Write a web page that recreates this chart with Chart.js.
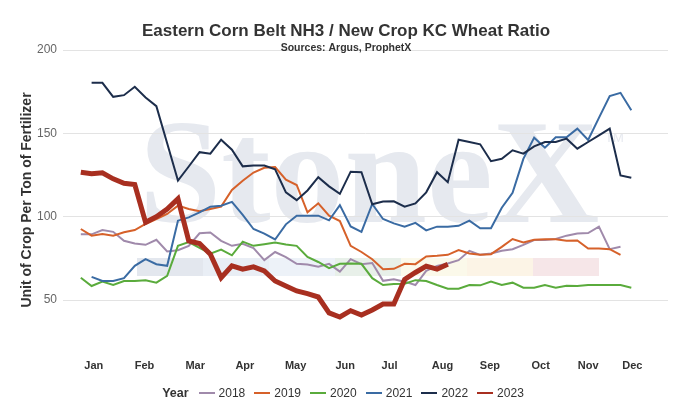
<!DOCTYPE html>
<html>
<head>
<meta charset="utf-8">
<script src="https://cdn.jsdelivr.net/npm/chart.js@4.4.0/dist/chart.umd.min.js"></script>
<style>
  html, body { margin: 0; padding: 0; background: #fff; }
  #wrap { position: relative; width: 676px; height: 409px; }
  #legend {
    position: absolute; left: 5px; top: 386px; width: 676px;
    display: flex; justify-content: center; align-items: center;
    font: 12px "Liberation Sans", Arial, sans-serif; color: #333; line-height: 14px;
  }
  #legend .ttl { font-weight: bold; font-size: 12.5px; margin-right: 10px; }
  #legend .sw { display: inline-block; width: 16px; height: 2px; margin-right: 4px; }
  #legend .it { display: flex; align-items: center; margin-right: 9px; }
  #legend .it:last-child { margin-right: 0; }
</style>
</head>
<body>
<div id="wrap">
  <canvas id="ratioChart" width="676" height="409"></canvas>
  <div id="legend"></div>
</div>
<script>
// week of year (x) for every weekly reading
const weeks = [1,2,3,4,5,6,7,8,9,10,11,12,13,14,15,16,17,18,19,20,21,22,23,24,25,26,
               27,28,29,30,31,32,33,34,35,36,37,38,39,40,41,42,43,44,45,46,47,48,49,50,51,52];

// month labels and where they sit on the week scale
const monthLabels = ['Jan','Feb','Mar','Apr','May','Jun','Jul','Aug','Sep','Oct','Nov','Dec'];
const monthWeeks = [2.2, 6.9, 11.6, 16.2, 20.9, 25.5, 29.6, 34.5, 38.9, 43.6, 48.0, 52.1];
const yTicks = [50, 100, 150, 200];

// ratio values per year
const year2018 = [89.4,89.4,92,90.9,85.5,83.9,83.1,86.1,79.1,79.9,82.5,90,90.5,85.5,82.5,83.7,81.1,73.9,78.8,75.7,
                  71.7,71.3,70,71.7,67,74.5,71.5,72.2,61.5,62.5,61,59,67.5,70.5,71.9,73.9,79.5,77.1,77.9,79.5,
                  80.5,83.1,86,86,86.6,88.6,89.9,90.2,94,80.5,81.9];
const year2019 = [92.6,88.6,89.6,88.6,90.6,92,95.6,98.6,101.6,106.6,104.6,103.2,104.6,106,116,121.5,126.5,129.3,129.8,122.2,
                  119,102.6,108,100.6,97.4,82.5,78.8,74.5,68.5,68.7,71.7,71.5,76.1,76.5,77.1,79.9,77.9,77.1,77.5,81.9,
                  86.6,84.5,86.1,86.4,86.4,85.5,85.7,80.9,80.9,80.5,77.1];
const year2020 = [63.4,58.4,61,59,61.4,61.4,61.9,60.4,64.5,82.5,84.7,81.3,77.8,80.2,76.8,85,82.5,83.5,84.5,83.3,
                  82.5,75.9,72.8,69.1,71.7,71.9,71.7,63.1,59,59.6,59.8,61.9,61.4,59,56.8,56.8,59,58.8,61,59,
                  60.4,57.4,57.4,59,57.4,58.6,58.4,59,59,59,59,57.4];
const year2021 = [null,63.9,61.4,61.4,63.1,70.5,74.5,71.5,70.5,97.6,99.6,102.6,106,106.6,108.9,101.1,92.6,89.8,86.3,95.4,
                  100.6,100.6,100.6,97.8,106.9,94.1,90.9,107.6,98.6,96,94,96.3,91.8,94,94,94.5,97.6,93,93,105.4,
                  114.3,134.7,147.4,141.4,147.6,147.6,152.8,146,159.3,172.3,174.3,163.9];
const year2022 = [null,180.3,180.3,171.9,172.9,177.9,171.5,166.3,144,121.7,130.1,138.7,137.8,146.2,140.2,130.2,130.7,130.7,128.4,114.6,
                  109.9,115.7,123.7,118.2,113.7,127,126.7,107.4,109.1,109.2,106,108,114.6,126.7,120.7,146.2,144.8,143.4,133.3,134.7,
                  139.8,137.8,142.2,144.8,144.8,146.8,140.8,144.8,148.8,152.8,124.7,123.3];
const year2023 = [126.7,125.7,126.3,122.7,120,119.3,96.6,100,104.6,110.7,85.5,83.9,77.5,63.4,70.5,68.5,69.9,67.5,61.4,58.4,
                  55.4,53.8,51.8,42.3,39.8,43.6,41,44,47.6,47.6,62.3,66.5,70.3,68.5,71.5];

const seriesNames = ['2018', '2019', '2020', '2021', '2022', '2023'];
const seriesValues = [year2018, year2019, year2020, year2021, year2022, year2023];
const seriesColors = ['#a08aab', '#d6612a', '#5aab3c', '#3a6ba3', '#1c2d4b', '#a82f20'];
const seriesWidths = [2, 2, 2, 2, 2, 5];

Chart.defaults.font.family = '"Liberation Sans", Arial, sans-serif';

const datasets = seriesNames.map((name, k) => ({
    label: name,
    data: seriesValues[k].map((v, i) => ({ x: weeks[i], y: v })),
    borderColor: seriesColors[k],
    backgroundColor: seriesColors[k],
    borderWidth: seriesWidths[k],
    pointRadius: 0,
    tension: 0,
    fill: false,
    order: seriesNames.length - k   // later years drawn on top
}));

// watermark behind the grid
const watermark = {
    id: 'watermark',
    beforeDraw(chart) {
        const c = chart.ctx;
        c.save();
        c.fillStyle = '#e6e9ef';
        c.font = 'bold 148px "Liberation Serif", "Times New Roman", serif';
        c.textBaseline = 'alphabetic';
        c.fillText('StoneX', 139, 222);
        c.font = '13px "Liberation Sans", Arial, sans-serif';
        c.fillText('TM', 605, 142);
        const bar = ['#e3e7ee', '#e9eef5', '#edf2f8', '#e8f0e9', '#fbf9ea', '#fcf4e6', '#f6e6e8'];
        bar.forEach((col, i) => {
            c.fillStyle = col;
            c.fillRect(137 + i * 66, 258, 66, 18);
        });
        c.restore();
    }
};

const ctx = document.getElementById('ratioChart').getContext('2d');
const ratioChart = new Chart(ctx, {
    type: 'line',
    data: { datasets: datasets },
    options: {
        responsive: false,
        animation: false,
        layout: { padding: { left: 24, right: 8, top: 0, bottom: 29 } },
        plugins: {
            legend: { display: false },
            tooltip: { enabled: false },
            title: {
                display: true,
                text: 'Eastern Corn Belt NH3 / New Crop KC Wheat Ratio',
                color: '#333',
                font: { size: 17, weight: 'bold' },
                padding: { top: 21, bottom: 0 }
            },
            subtitle: {
                display: true,
                text: 'Sources: Argus, ProphetX',
                color: '#333',
                font: { size: 10.5, weight: 'bold' },
                padding: { top: 0.5, bottom: -4.5 }
            }
        },
        scales: {
            x: {
                type: 'linear',
                min: -0.65,
                max: 55.4,
                grid: { display: false, drawTicks: false },
                border: { display: false },
                afterBuildTicks: (scale) => { scale.ticks = monthWeeks.map(v => ({ value: v })); },
                afterFit: (scale) => { scale.height = 30; },
                ticks: {
                    autoSkip: false,
                    maxRotation: 0,
                    padding: 9,
                    color: '#333',
                    font: { size: 11, weight: 'bold' },
                    callback: (v, i) => monthLabels[i]
                }
            },
            y: {
                min: 20,
                max: 200,
                afterBuildTicks: (scale) => { scale.ticks = yTicks.map(v => ({ value: v })); },
                afterFit: (scale) => { scale.width = 39; },
                grid: { color: '#e3e3e3', drawTicks: false },
                border: { display: false },
                ticks: { padding: 6, color: '#666', font: { size: 12 } },
                title: {
                    display: true,
                    text: 'Unit of Crop Per Ton of Fertilizer',
                    color: '#333',
                    font: { size: 14, weight: 'bold' },
                    padding: { top: -5, bottom: 0 }
                }
            }
        }
    },
    plugins: [watermark]
});

// legend: "Year" followed by one line swatch per series
const legendElem = document.getElementById('legend');
legendElem.innerHTML = '<span class="ttl">Year</span>' + seriesNames.map((name, k) =>
    `<span class="it"><span class="sw" style="background:${seriesColors[k]}"></span>${name}</span>`).join('');
</script>
</body>
</html>
